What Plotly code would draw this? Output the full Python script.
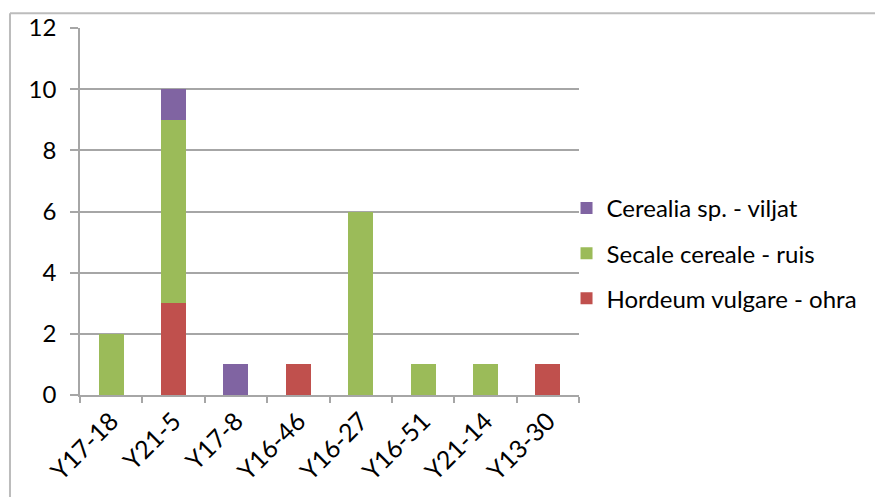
import plotly.graph_objects as go

categories = ["Y17-18", "Y21-5", "Y17-8", "Y16-46", "Y16-27", "Y16-51", "Y21-14", "Y13-30"]
hordeum = [0, 3, 0, 1, 0, 0, 0, 1]
secale = [2, 6, 0, 0, 6, 1, 1, 0]
cerealia = [0, 1, 1, 0, 0, 0, 0, 0]
y_ticks = [0, 2, 4, 6, 8, 10, 12]

series = [
    ("Hordeum vulgare - ohra", hordeum, "#C0504D"),
    ("Secale cereale - ruis", secale, "#9BBB59"),
    ("Cerealia sp. - viljat", cerealia, "#8064A2"),
]

fig = go.Figure()
n = len(series)
for i, (name, vals, col) in enumerate(series):
    fig.add_trace(go.Bar(x=categories, y=vals, name=name, marker_color=col,
                         marker_line_width=0, legendgroup=f"g{n - i}",
                         legendrank=1000 + (n - i)))

FONT = "Lato, Calibri, Carlito, sans-serif"
GRID = "#a6a6a6"

fig.update_layout(
    barmode="stack",
    bargap=0.6,
    width=875, height=497,
    margin=dict(l=80, r=296, t=21, b=100),
    paper_bgcolor="white", plot_bgcolor="white",
    font=dict(family=FONT, size=24, color="black"),
    legend=dict(traceorder="grouped", x=0.975, xanchor="left", y=0.386, yanchor="middle",
                font=dict(size=24), tracegroupgap=11, bgcolor="rgba(0,0,0,0)"),
    xaxis=dict(tickangle=-45, showline=True, linecolor=GRID, linewidth=1.5,
               ticks="outside", ticklen=6, tickcolor=GRID, tickwidth=1.5,
               tickson="boundaries", showgrid=False, tickfont=dict(size=25)),
    yaxis=dict(range=[0, 12], tickvals=y_ticks, showline=True, linecolor=GRID, linewidth=1.5,
               ticks="outside", ticklen=8, tickcolor=GRID, tickwidth=1.5,
               showgrid=True, gridcolor=GRID, gridwidth=1.5, zeroline=False,
               tickfont=dict(size=24), ticklabelstandoff=9),
    shapes=[
        dict(type="line", xref="paper", yref="paper", x0=-0.1403, x1=1.7, y0=1.0399, y1=1.0399,
             line=dict(color="#bcbcbc", width=2)),
        dict(type="line", xref="paper", yref="paper", x0=-0.1403, x1=-0.1403, y0=1.0399, y1=-0.3,
             line=dict(color="#bcbcbc", width=2)),
    ],
)

fig.write_html("out.html", config={"displayModeBar": False},
               post_script="document.body.style.margin='0';")
